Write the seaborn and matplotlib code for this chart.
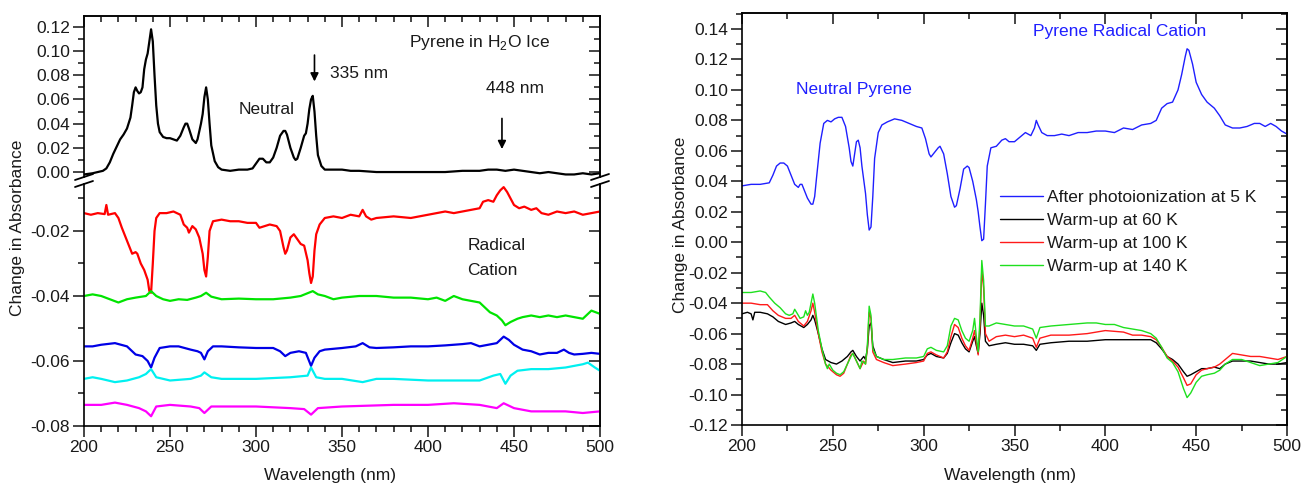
import matplotlib
matplotlib.use("Agg")
import matplotlib.pyplot as plt
import seaborn as sns
from matplotlib.ticker import MultipleLocator, FormatStrFormatter, NullFormatter
from matplotlib.lines import Line2D

# ---------------- data: left panel (Pyrene in H2O ice) ----------------
neutral_wl = [200, 205, 208, 211, 213, 215, 217, 219, 221, 223, 225, 227, 228, 229, 230, 231, 232, 233, 234,
              235, 236, 237, 238, 239, 240, 241, 242, 243, 244, 246, 248, 250, 252, 254, 256, 258, 259, 260,
              261, 263, 265, 266, 268, 269, 270, 271, 272, 273, 274, 276, 278, 280, 285, 290, 295, 298, 300,
              302, 304, 306, 308, 310, 312, 314, 316, 317, 318, 320, 322, 323, 324, 326, 328, 329, 330, 331,
              332, 333, 334, 335, 336, 338, 340, 345, 350, 355, 360, 370, 380, 390, 400, 410, 420, 430, 435,
              440, 445, 450, 455, 460, 465, 470, 475, 480, 485, 490, 495, 500]
neutral_abs = [-0.002, -0.001, 0.000, 0.001, 0.003, 0.008, 0.015, 0.021, 0.027, 0.031, 0.036, 0.045, 0.055,
               0.066, 0.070, 0.067, 0.065, 0.066, 0.070, 0.085, 0.093, 0.098, 0.108, 0.118, 0.108, 0.080,
               0.055, 0.040, 0.033, 0.029, 0.028, 0.028, 0.027, 0.026, 0.030, 0.037, 0.040, 0.040, 0.036,
               0.027, 0.024, 0.027, 0.040, 0.048, 0.062, 0.070, 0.060, 0.040, 0.022, 0.009, 0.004, 0.002,
               0.001, 0.002, 0.002, 0.003, 0.007, 0.011, 0.011, 0.008, 0.008, 0.012, 0.020, 0.030, 0.034,
               0.034, 0.031, 0.020, 0.012, 0.010, 0.011, 0.020, 0.030, 0.032, 0.040, 0.052, 0.060, 0.063,
               0.050, 0.030, 0.014, 0.005, 0.002, 0.002, 0.002, 0.001, 0.001, 0.000, 0.000, 0.000, 0.000,
               0.000, 0.001, 0.001, 0.002, 0.002, 0.001, 0.002, 0.001, 0.000, -0.001, 0.000, -0.001, -0.002,
               -0.002, -0.001, -0.002, -0.001]

red_wl = [200, 204, 208, 212, 213, 214, 218, 220, 222, 225, 228, 230, 231, 233, 235, 237, 238, 239, 240, 241,
          242, 244, 248, 252, 256, 258, 260, 261, 263, 265, 267, 269, 270, 271, 272, 273, 275, 280, 285, 290,
          295, 300, 302, 305, 308, 312, 314, 316, 317, 318, 320, 322, 324, 326, 328, 330, 331, 332, 333, 334,
          335, 337, 340, 345, 350, 355, 360, 362, 364, 367, 370, 380, 390, 395, 400, 405, 410, 415, 420, 425,
          430, 432, 435, 438, 440, 442, 444, 446, 448, 450, 453, 456, 460, 463, 466, 470, 475, 480, 485, 490,
          495, 500]
red_abs = [-0.0145, -0.0150, -0.0145, -0.0148, -0.0120, -0.0150, -0.0145, -0.0160, -0.0190, -0.0230, -0.0270,
           -0.0265, -0.0270, -0.0300, -0.0320, -0.0350, -0.0385, -0.0390, -0.0300, -0.0200, -0.0160, -0.0145,
           -0.0145, -0.0140, -0.0150, -0.0180, -0.0190, -0.0205, -0.0185, -0.0195, -0.0220, -0.0270, -0.0320,
           -0.0340, -0.0280, -0.0200, -0.0170, -0.0165, -0.0170, -0.0170, -0.0175, -0.0175, -0.0190, -0.0185,
           -0.0180, -0.0185, -0.0200, -0.0250, -0.0270, -0.0260, -0.0220, -0.0210, -0.0225, -0.0240, -0.0245,
           -0.0290, -0.0330, -0.0360, -0.0340, -0.0260, -0.0210, -0.0180, -0.0160, -0.0155, -0.0160, -0.0150,
           -0.0155, -0.0135, -0.0155, -0.0165, -0.0160, -0.0155, -0.0160, -0.0155, -0.0150, -0.0145, -0.0140,
           -0.0145, -0.0140, -0.0135, -0.0130, -0.0110, -0.0105, -0.0110, -0.0090, -0.0075, -0.0065, -0.0080,
           -0.0100, -0.0120, -0.0130, -0.0125, -0.0135, -0.0130, -0.0145, -0.0150, -0.0140, -0.0145, -0.0140,
           -0.0150, -0.0145, -0.0140]

green_wl = [200, 205, 210, 215, 220, 225, 230, 236, 239, 242, 246, 250, 255, 260, 265, 268, 271, 274, 280, 290,
            300, 310, 320, 326, 333, 336, 340, 345, 350, 360, 370, 380, 390, 400, 405, 410, 415, 420, 425, 430,
            433, 436, 440, 443, 445, 448, 452, 455, 460, 465, 470, 475, 480, 485, 490, 495, 500]
green_abs = [-0.0400, -0.0395, -0.0400, -0.0410, -0.0420, -0.0410, -0.0405, -0.0400, -0.0385, -0.0400, -0.0410,
             -0.0415, -0.0410, -0.0412, -0.0405, -0.0400, -0.0390, -0.0402, -0.0410, -0.0408, -0.0410, -0.0410,
             -0.0405, -0.0400, -0.0385, -0.0395, -0.0400, -0.0410, -0.0405, -0.0400, -0.0400, -0.0405, -0.0405,
             -0.0410, -0.0405, -0.0415, -0.0400, -0.0410, -0.0415, -0.0420, -0.0435, -0.0450, -0.0460, -0.0475,
             -0.0490, -0.0480, -0.0470, -0.0465, -0.0460, -0.0465, -0.0460, -0.0465, -0.0460, -0.0465, -0.0470,
             -0.0445, -0.0455]

blue_wl = [200, 205, 210, 218, 225, 230, 234, 237, 239, 241, 244, 250, 255, 262, 266, 268, 270, 272, 275, 280,
           290, 300, 310, 314, 317, 320, 325, 329, 332, 334, 337, 340, 350, 358, 362, 366, 370, 380, 390, 400,
           410, 420, 425, 430, 435, 440, 444, 447, 450, 455, 460, 465, 470, 475, 479, 482, 485, 490, 495, 500]
blue_abs = [-0.0555, -0.0555, -0.0550, -0.0545, -0.0555, -0.0580, -0.0585, -0.0600, -0.0620, -0.0590, -0.0560,
            -0.0555, -0.0555, -0.0565, -0.0570, -0.0575, -0.0595, -0.0570, -0.0555, -0.0555, -0.0558, -0.0560,
            -0.0560, -0.0570, -0.0585, -0.0575, -0.0570, -0.0575, -0.0615, -0.0590, -0.0570, -0.0565, -0.0560,
            -0.0555, -0.0545, -0.0558, -0.0560, -0.0558, -0.0555, -0.0555, -0.0552, -0.0548, -0.0545, -0.0555,
            -0.0550, -0.0545, -0.0525, -0.0535, -0.0550, -0.0565, -0.0570, -0.0580, -0.0575, -0.0575, -0.0565,
            -0.0575, -0.0580, -0.0578, -0.0575, -0.0578]

cyan_wl = [200, 205, 210, 218, 225, 232, 236, 239, 242, 250, 262, 268, 270, 274, 280, 300, 320, 330, 332, 335,
           340, 350, 362, 370, 380, 400, 420, 430, 438, 442, 445, 448, 452, 460, 470, 480, 485, 490, 493, 497, 500]
cyan_abs = [-0.0655, -0.0650, -0.0655, -0.0665, -0.0660, -0.0650, -0.0640, -0.0625, -0.0650, -0.0660, -0.0655,
            -0.0645, -0.0635, -0.0650, -0.0655, -0.0655, -0.0650, -0.0645, -0.0620, -0.0650, -0.0655, -0.0655,
            -0.0665, -0.0655, -0.0655, -0.0660, -0.0660, -0.0660, -0.0645, -0.0640, -0.0670, -0.0645, -0.0630,
            -0.0625, -0.0625, -0.0620, -0.0615, -0.0610, -0.0605, -0.0620, -0.0630]

magenta_wl = [200, 210, 218, 225, 232, 236, 239, 242, 250, 262, 267, 270, 274, 300, 320, 328, 332, 336, 350, 380,
              400, 415, 430, 440, 444, 450, 460, 470, 480, 490, 500]
magenta_abs = [-0.0735, -0.0735, -0.0728, -0.0735, -0.0745, -0.0755, -0.0770, -0.0740, -0.0735, -0.0740, -0.0745,
               -0.0760, -0.0740, -0.0740, -0.0745, -0.0748, -0.0765, -0.0745, -0.0740, -0.0735, -0.0735, -0.0730,
               -0.0735, -0.0745, -0.0730, -0.0745, -0.0755, -0.0755, -0.0755, -0.0760, -0.0755]

# ---------------- data: right panel ----------------
photo5K_wl = [200, 205, 210, 215, 217, 219, 221, 223, 225, 227, 229, 231, 232, 233, 234, 236, 238, 239, 240, 241,
              243, 245, 247, 249, 251, 253, 255, 257, 259, 260, 261, 262, 263, 264, 265, 266, 268, 269, 270, 271,
              272, 273, 275, 277, 280, 284, 288, 292, 296, 299, 301, 303, 304, 306, 308, 309, 311, 313, 315, 317,
              318, 320, 322, 324, 325, 327, 329, 330, 331, 332, 333, 334, 335, 337, 340, 343, 345, 347, 350, 353,
              356, 359, 361, 362, 363, 365, 368, 372, 376, 380, 385, 390, 395, 400, 405, 410, 415, 420, 425, 428,
              431, 434, 437, 440, 442, 444, 445, 446, 448, 450, 453, 456, 460, 463, 466, 470, 474, 478, 482, 485,
              488, 491, 494, 497, 500]
photo5K_abs = [0.037, 0.038, 0.038, 0.039, 0.044, 0.050, 0.052, 0.052, 0.050, 0.044, 0.038, 0.036, 0.038, 0.038,
               0.035, 0.029, 0.025, 0.025, 0.030, 0.042, 0.065, 0.078, 0.080, 0.079, 0.081, 0.082, 0.082, 0.076,
               0.062, 0.053, 0.050, 0.058, 0.066, 0.067, 0.062, 0.050, 0.032, 0.018, 0.008, 0.010, 0.030, 0.055,
               0.072, 0.077, 0.079, 0.081, 0.080, 0.078, 0.076, 0.075, 0.068, 0.058, 0.056, 0.059, 0.062, 0.063,
               0.058, 0.045, 0.030, 0.023, 0.024, 0.035, 0.048, 0.050, 0.049, 0.040, 0.028, 0.020, 0.010, 0.001,
               0.002, 0.025, 0.050, 0.062, 0.063, 0.067, 0.068, 0.066, 0.066, 0.069, 0.072, 0.070, 0.075, 0.080,
               0.077, 0.072, 0.070, 0.070, 0.071, 0.070, 0.072, 0.072, 0.073, 0.073, 0.072, 0.075, 0.074, 0.077,
               0.078, 0.080, 0.088, 0.091, 0.092, 0.100, 0.110, 0.122, 0.127, 0.126, 0.117, 0.105, 0.097, 0.092,
               0.088, 0.083, 0.077, 0.075, 0.075, 0.076, 0.078, 0.078, 0.076, 0.078, 0.076, 0.073, 0.071]

warm60_wl = [200, 203, 205, 206, 207, 210, 214, 217, 220, 224, 227, 229, 231, 234, 236, 238, 239, 240, 242, 244,
             246, 249, 252, 255, 258, 260, 261, 263, 265, 267, 268, 269, 270, 271, 272, 274, 278, 283, 290, 296,
             300, 302, 304, 307, 311, 313, 315, 317, 319, 321, 323, 325, 327, 328, 329, 330, 331, 332, 333, 334,
             336, 340, 345, 350, 355, 360, 362, 364, 370, 380, 390, 400, 410, 420, 425, 428, 431, 434, 437, 440,
             443, 445, 447, 450, 453, 456, 460, 463, 466, 470, 475, 480, 485, 490, 495, 500]
warm60_abs = [-0.047, -0.046, -0.047, -0.051, -0.046, -0.046, -0.047, -0.049, -0.052, -0.054, -0.053, -0.052,
              -0.054, -0.056, -0.054, -0.051, -0.048, -0.051, -0.060, -0.070, -0.077, -0.079, -0.080, -0.078,
              -0.075, -0.072, -0.071, -0.075, -0.078, -0.075, -0.077, -0.070, -0.055, -0.053, -0.068, -0.075,
              -0.077, -0.079, -0.078, -0.078, -0.077, -0.074, -0.073, -0.075, -0.076, -0.073, -0.066, -0.060,
              -0.061, -0.066, -0.070, -0.072, -0.065, -0.062, -0.068, -0.073, -0.060, -0.040, -0.048, -0.065,
              -0.068, -0.067, -0.066, -0.067, -0.067, -0.068, -0.071, -0.067, -0.066, -0.065, -0.065, -0.064,
              -0.064, -0.064, -0.064, -0.066, -0.070, -0.075, -0.077, -0.080, -0.085, -0.088, -0.087, -0.085,
              -0.083, -0.083, -0.082, -0.083, -0.080, -0.078, -0.078, -0.078, -0.079, -0.080, -0.080, -0.079]

warm100_wl = [200, 205, 210, 214, 217, 220, 224, 227, 229, 231, 234, 236, 238, 239, 240, 242, 244, 246, 249, 252,
              254, 256, 258, 260, 261, 263, 265, 267, 268, 269, 270, 271, 272, 274, 278, 283, 290, 296, 300, 302,
              304, 307, 311, 313, 315, 317, 319, 321, 323, 325, 327, 328, 329, 330, 331, 332, 333, 334, 336, 340,
              345, 350, 355, 360, 362, 364, 370, 380, 390, 400, 410, 415, 420, 425, 428, 431, 434, 437, 440, 443,
              445, 447, 450, 453, 456, 460, 463, 466, 470, 475, 480, 485, 490, 495, 500]
warm100_abs = [-0.040, -0.040, -0.041, -0.041, -0.045, -0.048, -0.050, -0.050, -0.048, -0.052, -0.055, -0.052,
               -0.045, -0.040, -0.046, -0.060, -0.072, -0.080, -0.084, -0.087, -0.088, -0.086, -0.080, -0.074,
               -0.073, -0.078, -0.083, -0.078, -0.080, -0.070, -0.046, -0.050, -0.072, -0.077, -0.079, -0.081,
               -0.080, -0.079, -0.078, -0.073, -0.072, -0.074, -0.076, -0.072, -0.062, -0.054, -0.056, -0.063,
               -0.068, -0.071, -0.063, -0.058, -0.066, -0.074, -0.055, -0.018, -0.030, -0.060, -0.065, -0.062,
               -0.061, -0.062, -0.061, -0.063, -0.069, -0.063, -0.061, -0.061, -0.060, -0.058, -0.059, -0.061,
               -0.061, -0.062, -0.064, -0.069, -0.075, -0.078, -0.082, -0.089, -0.094, -0.093, -0.087, -0.084,
               -0.083, -0.082, -0.080, -0.077, -0.073, -0.074, -0.075, -0.075, -0.076, -0.077, -0.075]

warm140_wl = [200, 205, 210, 213, 215, 218, 221, 224, 226, 228, 229, 230, 232, 234, 235, 236, 237, 238, 239, 240,
              242, 244, 246, 247, 248, 250, 252, 254, 256, 258, 260, 261, 263, 265, 266, 268, 269, 270, 271, 272,
              274, 278, 283, 290, 296, 300, 302, 304, 307, 311, 313, 315, 317, 319, 321, 323, 325, 327, 328, 329,
              330, 331, 332, 333, 334, 336, 340, 345, 350, 355, 360, 362, 364, 370, 380, 390, 395, 400, 405, 410,
              415, 420, 425, 428, 431, 434, 437, 440, 443, 445, 447, 450, 453, 456, 460, 463, 466, 470, 475, 480,
              485, 490, 495, 500]
warm140_abs = [-0.033, -0.033, -0.032, -0.033, -0.036, -0.040, -0.043, -0.047, -0.048, -0.047, -0.044, -0.046,
               -0.050, -0.049, -0.045, -0.048, -0.046, -0.040, -0.034, -0.040, -0.058, -0.070, -0.080, -0.083,
               -0.080, -0.084, -0.086, -0.087, -0.085, -0.080, -0.075, -0.073, -0.078, -0.083, -0.078, -0.080,
               -0.068, -0.042, -0.048, -0.070, -0.075, -0.077, -0.077, -0.076, -0.076, -0.075, -0.070, -0.069,
               -0.071, -0.072, -0.068, -0.055, -0.050, -0.051, -0.058, -0.063, -0.065, -0.058, -0.050, -0.062,
               -0.072, -0.050, -0.012, -0.025, -0.055, -0.055, -0.053, -0.054, -0.055, -0.055, -0.057, -0.063,
               -0.056, -0.055, -0.054, -0.053, -0.053, -0.054, -0.054, -0.056, -0.057, -0.058, -0.060, -0.063,
               -0.069, -0.076, -0.079, -0.085, -0.096, -0.102, -0.099, -0.092, -0.088, -0.087, -0.086, -0.084,
               -0.080, -0.077, -0.077, -0.079, -0.081, -0.080, -0.079, -0.075]

legend_labels = ["After photoionization at 5 K", "Warm-up at 60 K", "Warm-up at 100 K", "Warm-up at 140 K"]
x_ticks = [200, 250, 300, 350, 400, 450, 500]

# ---------------- style ----------------
sns.set_style("ticks")
plt.rcParams['font.family'] = ['Liberation Sans', 'DejaVu Sans']
plt.rcParams['mathtext.fontset'] = 'custom'
plt.rcParams['mathtext.rm'] = 'Liberation Sans'
plt.rcParams['axes.unicode_minus'] = False
FS = 12.5
TXT = '#1a1a1a'

W, H = 1303, 486
fig = plt.figure(figsize=(W / 100, H / 100), dpi=100)


def box(x0, y0, x1, y1):
    return [x0 / W, (H - y1) / H, (x1 - x0) / W, (y1 - y0) / H]


def fx(x):
    return x / W


def fy(y):
    return 1 - y / H


def setup(ax, xminor, ymajor, yminor, top=True, bottom=True):
    ax.set_xlim(200, 500)
    ax.xaxis.set_major_locator(MultipleLocator(50))
    ax.xaxis.set_minor_locator(MultipleLocator(xminor))
    ax.yaxis.set_major_locator(MultipleLocator(ymajor))
    ax.yaxis.set_minor_locator(MultipleLocator(yminor))
    ax.yaxis.set_major_formatter(FormatStrFormatter('%.2f'))
    for s in ax.spines.values():
        s.set_linewidth(1.2)
        s.set_color('black')
    ax.tick_params(which='major', direction='out', length=8, width=1.2, labelsize=FS,
                   labelcolor=TXT, pad=2, top=False, right=False, bottom=bottom, labelbottom=bottom)
    ax.tick_params(which='minor', direction='out', length=4.5, width=1.2, top=False, right=False,
                   bottom=bottom)
    ax.set_xlabel('')
    ax.set_ylabel('')
    sy = ax.secondary_yaxis('right')
    sy.yaxis.set_major_locator(MultipleLocator(ymajor))
    sy.yaxis.set_minor_locator(MultipleLocator(yminor))
    sy.yaxis.set_major_formatter(NullFormatter())
    sy.tick_params(which='major', direction='in', length=8, width=1.2)
    sy.tick_params(which='minor', direction='in', length=4.5, width=1.2)
    sy.spines['right'].set_linewidth(1.2)
    if top:
        sx = ax.secondary_xaxis('top')
        sx.xaxis.set_major_locator(MultipleLocator(50))
        sx.xaxis.set_minor_locator(MultipleLocator(xminor))
        sx.xaxis.set_major_formatter(NullFormatter())
        sx.tick_params(which='major', direction='in', length=8, width=1.2)
        sx.tick_params(which='minor', direction='in', length=4.5, width=1.2)
        sx.spines['top'].set_linewidth(1.2)


def line(ax, x, y, color, lw, label=None):
    sns.lineplot(x=x, y=y, ax=ax, color=color, linewidth=lw, estimator=None, sort=False,
                 label=label, legend=False)


# ---------------- left panel ----------------
ax_t = fig.add_axes(box(84, 16, 600, 177))
ax_b = fig.add_axes(box(84, 184, 600, 426))

line(ax_t, neutral_wl, neutral_abs, 'black', 1.6)
ax_t.set_ylim(-0.0041, 0.129)
setup(ax_t, 10, 0.02, 0.01, top=True, bottom=False)
ax_t.spines['bottom'].set_visible(False)

LW = 1.6
line(ax_b, red_wl, red_abs, '#ff0000', LW)
line(ax_b, green_wl, green_abs, '#00e400', LW)
line(ax_b, blue_wl, blue_abs, '#0000e6', LW)
line(ax_b, cyan_wl, cyan_abs, '#00f0f0', LW)
line(ax_b, magenta_wl, magenta_abs, '#ff00ff', LW)
ax_b.set_ylim(-0.08, -0.00554)
setup(ax_b, 10, 0.02, 0.01, top=False, bottom=True)
ax_b.spines['top'].set_visible(False)
ax_b.set_xticks(x_ticks)

# break marks
for xs in (84, 600):
    for yc in (177, 184):
        fig.add_artist(Line2D([fx(xs - 9), fx(xs + 9)], [fy(yc + 3), fy(yc - 3)],
                              transform=fig.transFigure, color='black', lw=1.3))

ax_t.text(389, 0.1075, r'Pyrene in H$_2$O Ice', fontsize=FS, color=TXT, va='center', ha='left')
ax_t.text(343, 0.0818, '335 nm', fontsize=FS, color=TXT, va='center', ha='left')
ax_t.text(434, 0.069, '448 nm', fontsize=FS, color=TXT, va='center', ha='left')
ax_t.text(290, 0.052, 'Neutral', fontsize=FS, color=TXT, va='center', ha='left')
ax_t.annotate('', xy=(334, 0.0726), xytext=(334, 0.099),
              arrowprops=dict(arrowstyle='-|>', color='black', lw=1.2, mutation_scale=12))
ax_t.annotate('', xy=(443, 0.0167), xytext=(443, 0.0466),
              arrowprops=dict(arrowstyle='-|>', color='black', lw=1.2, mutation_scale=12))
ax_b.text(423, -0.0246, 'Radical', fontsize=FS, color=TXT, va='center', ha='left')
ax_b.text(423, -0.0323, 'Cation', fontsize=FS, color=TXT, va='center', ha='left')

fig.text(fx(18), fy(228), 'Change in Absorbance', rotation=90, fontsize=FS, color=TXT,
         ha='center', va='center')
fig.text(fx(330), fy(475), 'Wavelength (nm)', fontsize=FS, color=TXT, ha='center', va='center')

# ---------------- right panel ----------------
ax_r = fig.add_axes(box(742, 13, 1287, 425))
line(ax_r, photo5K_wl, photo5K_abs, '#1f1fff', 1.0, legend_labels[0])
line(ax_r, warm60_wl, warm60_abs, 'black', 1.0, legend_labels[1])
line(ax_r, warm100_wl, warm100_abs, '#ff1a1a', 1.0, legend_labels[2])
line(ax_r, warm140_wl, warm140_abs, '#1ee01e', 1.0, legend_labels[3])
ax_r.set_ylim(-0.12, 0.1505)
setup(ax_r, 25, 0.02, 0.01, top=True, bottom=True)
ax_r.set_xticks(x_ticks)

leg = ax_r.legend(loc='upper left', bbox_to_anchor=((1000 - 742) / 545, (425 - 190) / 412),
                  frameon=False, fontsize=FS, handlelength=2.45, handletextpad=0.25,
                  labelspacing=0.45, borderpad=0, borderaxespad=0)
for t in leg.get_texts():
    t.set_color(TXT)

ax_r.text(360, 0.1385, 'Pyrene Radical Cation', fontsize=FS, color='#1f1fff', va='center', ha='left')
ax_r.text(230, 0.100, 'Neutral Pyrene', fontsize=FS, color='#1f1fff', va='center', ha='left')

fig.text(fx(680), fy(225), 'Change in Absorbance', rotation=90, fontsize=FS, color=TXT,
         ha='center', va='center')
fig.text(fx(1010), fy(475), 'Wavelength (nm)', fontsize=FS, color=TXT, ha='center', va='center')

fig.savefig('out.png', dpi=100, facecolor='white')
